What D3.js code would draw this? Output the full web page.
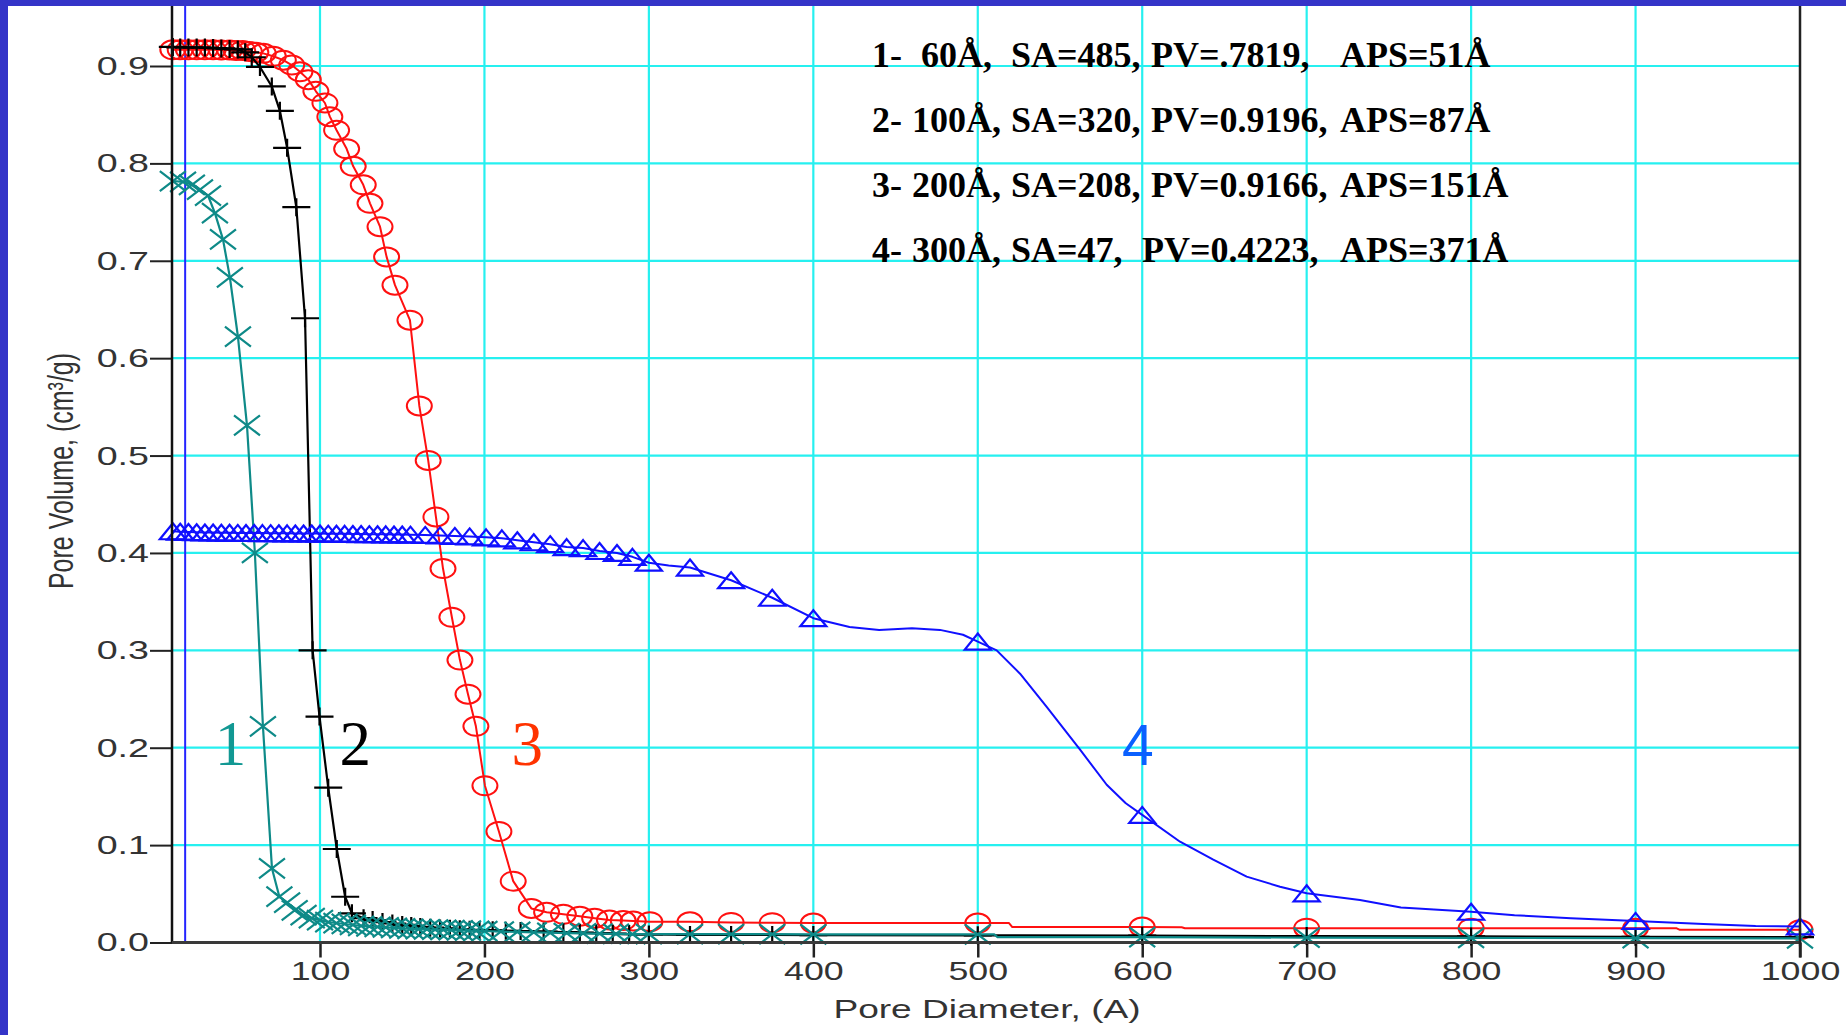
<!DOCTYPE html>
<html>
<head>
<meta charset="utf-8">
<script src="https://cdn.jsdelivr.net/npm/d3@7"></script>
<style>
  html, body { margin: 0; padding: 0; background: #fff; }
  svg { display: block; }
</style>
</head>
<body>
<svg id="chart" width="1846" height="1035"></svg>
<script>
// Cumulative pore volume (cm³/g) against pore diameter (Å) for four silica grades.
// Each series: measured points (drawn with markers) and extra curve points (line only).

const s1Points = [
  [10.5,0.7819],[16.7,0.781],[22.1,0.778],[27,0.773],[31.9,0.767],[36.1,0.749],[41,0.722],
  [45.2,0.683],[50.1,0.622],[55.6,0.531],[60.4,0.400],[65.3,0.222],[70.8,0.076],[75.3,0.047],
  [80,0.041],[84.6,0.033],[90,0.028],[95,0.025],[100,0.023],[105,0.021],[110,0.020],[115,0.019],
  [120,0.018],[125,0.017],[130,0.0165],[135,0.016],[140,0.0155],[145,0.015],[150,0.0145],
  [155,0.014],[160,0.0138],[165,0.0135],[170,0.0132],[175,0.013],[180,0.0128],[185,0.0125],
  [190,0.0122],[195,0.012],[200,0.0118],[210,0.0112],[220,0.0108],[230,0.0104],[240,0.010],
  [250,0.0097],[260,0.0094],[270,0.0091],[280,0.0089],[290,0.0087],[300,0.0086],[325,0.0085],
  [350,0.0085],[375,0.0085],[400,0.0084],[500,0.0083],[600,0.0055],[700,0.005],[800,0.0047],
  [900,0.0045],[1000,0.0043]
];
const s1Extra = [[510,0.0083],[512,0.0056]];

const s2Points = [
  [10.5,0.9196],[15,0.919],[20,0.919],[25,0.919],[30,0.919],[35,0.9185],[40,0.918],[45,0.9175],
  [50,0.917],[54.5,0.914],[58.5,0.909],[63.5,0.899],[70.7,0.879],[75.6,0.854],[80,0.816],
  [85.6,0.755],[90.9,0.641],[95.5,0.300],[99.7,0.232],[105,0.159],[110.2,0.096],[115.3,0.047],
  [119.4,0.030],[126.5,0.025],[132,0.023],[138,0.021],[144,0.0195],[150,0.018],[155.5,0.017],
  [161,0.016],[167,0.0152],[173,0.0145],[179,0.014],[185,0.0135],[191,0.013],[197,0.0128],
  [205,0.0125],[213,0.012],[222,0.0118],[236,0.0112],[248,0.0106],[258,0.0101],[268,0.0096],
  [278,0.0091],[288,0.0087],[300,0.0082],[325,0.0078],[350,0.0078],[375,0.0077],[400,0.0076],
  [500,0.0074],[600,0.007],[700,0.0066],[800,0.0062],[900,0.0058],[1000,0.0055]
];
const s2Extra = [];

const s3Points = [
  [10.5,0.9166],[15,0.9166],[20,0.9166],[25,0.9166],[30,0.9166],[35,0.9166],[40,0.9165],
  [45,0.9165],[49,0.916],[53,0.916],[57,0.915],[61,0.914],[65.5,0.913],[71.6,0.910],[77.7,0.906],
  [82.8,0.901],[87.8,0.894],[92.9,0.886],[97.5,0.874],[103,0.862],[106,0.848],[110.1,0.834],
  [116.2,0.815],[120.2,0.797],[126.3,0.778],[130.4,0.759],[136.5,0.735],[140.5,0.704],
  [145.6,0.675],[154.7,0.639],[160.4,0.551],[165.8,0.495],[170.5,0.437],[174.8,0.384],
  [180.2,0.334],[185.1,0.290],[190,0.255],[194.8,0.222],[200.3,0.161],[208.8,0.114],
  [217.5,0.063],[228.5,0.035],[237.8,0.031],[248,0.029],[258,0.027],[267,0.025],[276,0.023],
  [284.4,0.0225],[290.5,0.022],[300.6,0.0214],[325,0.0212],[350,0.0205],[375,0.0203],
  [400,0.0199],[500,0.0199],[600,0.0158],[700,0.0147],[800,0.0147],[900,0.0146],[1000,0.013]
];
const s3Extra = [[519,0.0199],[521,0.0158],[624,0.0157],[626,0.0147],[925,0.0146],[927,0.013]];

const s4Points = [
  [10.5,0.4223],[15,0.4218],[20,0.4215],[25,0.4213],[30,0.421],[35,0.421],[40,0.4208],
  [45,0.4207],[50,0.4206],[55,0.4205],[60,0.4205],[65,0.4204],[70,0.4203],[75,0.4202],
  [80,0.4201],[85,0.42],[90,0.42],[95,0.42],[100,0.4199],[105,0.4198],[110,0.4197],
  [115,0.4196],[120,0.4195],[125,0.4194],[130,0.4193],[135,0.4192],[140,0.4191],[145,0.419],
  [150,0.419],[155,0.4188],[164,0.4185],[173,0.418],[182,0.4175],[191,0.417],[201,0.416],
  [210.6,0.415],[220,0.413],[230,0.411],[240,0.409],[250,0.406],[260,0.405],[270,0.402],
  [280.6,0.400],[290,0.396],[300,0.390],[325,0.385],[350,0.372],[375,0.354],[400,0.333],
  [500,0.309],[600,0.131],[700,0.0505],[800,0.0316],[900,0.0222],[1000,0.0165]
];
const s4Extra = [
  [312,0.387],[422,0.324],[440,0.321],[460,0.3226],[477,0.321],[491,0.316],[511.5,0.300],
  [525.7,0.276],[541.9,0.242],[562.2,0.198],[578.4,0.162],[590,0.143],[623,0.1035],[643.2,0.085],
  [663.5,0.0676],[683.8,0.0573],[732.4,0.0436],[757.3,0.036],[826.4,0.028],[860.7,0.025],
  [941.3,0.019],[973,0.017]
];

const xTicks = [100,200,300,400,500,600,700,800,900,1000];
const yTicks = [0,0.1,0.2,0.3,0.4,0.5,0.6,0.7,0.8,0.9];
const referenceDiameter = 18;

const curveLabels = ["1","2","3","4"];
const curveLabelX = [45.5,121.5,226,597.4];

const legendRows = [
  ["1-", "60Å,",  "SA=485,", "PV=.7819,",  "APS=51Å"],
  ["2-", "100Å,", "SA=320,", "PV=0.9196,", "APS=87Å"],
  ["3-", "200Å,", "SA=208,", "PV=0.9166,", "APS=151Å"],
  ["4-", "300Å,", "SA=47,",  "PV=0.4223,", "APS=371Å"]
];

const xTitle = "Pore Diameter, (A)";
const yTitle = "Pore Volume, (cm³/g)";

// ---------- layout ----------
const svg = d3.select("#chart");
const W = 1846, H = 1035;
const left = 172, right = 1800, bottom = 942.5, top0 = 66;
const x = d3.scaleLinear().domain([10, 1000]).range([left, right]);
const y = d3.scaleLinear().domain([0, 0.9]).range([bottom, top0]);

svg.append("rect").attr("width", W).attr("height", H).attr("fill", "#fff");

const gridColor = "#26f0f0";
const g = svg.append("g");

// grid
g.append("g").selectAll("line").data(xTicks.filter(d => d < 1000)).join("line")
  .attr("x1", d => x(d)).attr("x2", d => x(d)).attr("y1", 0).attr("y2", bottom)
  .attr("stroke", gridColor).attr("stroke-width", 2.2);
g.append("g").selectAll("line").data(yTicks.filter(d => d > 0)).join("line")
  .attr("x1", left).attr("x2", right).attr("y1", d => y(d)).attr("y2", d => y(d))
  .attr("stroke", gridColor).attr("stroke-width", 2.2);

// reference line
g.append("line")
  .attr("x1", x(referenceDiameter)).attr("x2", x(referenceDiameter))
  .attr("y1", 0).attr("y2", bottom)
  .attr("stroke", "#2424ff").attr("stroke-width", 2);

// axes
const stretch = (sel, k) => sel.each(function () {
  const w = this.getComputedTextLength();
  d3.select(this).attr("textLength", w * k).attr("lengthAdjust", "spacingAndGlyphs");
});

const yAxis = g.append("g").attr("transform", `translate(${left},0)`)
  .call(d3.axisLeft(y).tickValues(yTicks).tickFormat(d3.format(".1f"))
    .tickSize(22).tickSizeOuter(0).tickPadding(1));
yAxis.select(".domain").remove();
yAxis.selectAll(".tick line").attr("stroke", "#222").attr("stroke-width", 2);
yAxis.selectAll(".tick text")
  .attr("font-family", "'Liberation Sans', Arial, sans-serif").attr("font-size", 26.5)
  .attr("fill", "#333").call(stretch, 1.42);

const xAxis = g.append("g").attr("transform", `translate(0,${bottom})`)
  .call(d3.axisBottom(x).tickValues(xTicks).tickFormat(d3.format("d"))
    .tickSize(15).tickSizeOuter(0).tickPadding(4));
xAxis.select(".domain").remove();
xAxis.selectAll(".tick line").attr("stroke", "#222").attr("stroke-width", 2.5);
xAxis.selectAll(".tick text")
  .attr("font-family", "'Liberation Sans', Arial, sans-serif").attr("font-size", 26.5)
  .attr("fill", "#333").call(stretch, 1.35);

// series
const lineGen = d3.line().x(d => x(d[0])).y(d => y(d[1]));
const merged = (pts, extra) => pts.concat(extra).sort((a, b) => a[0] - b[0]);

const shapes = {
  ellipse: null,
  plus: "M-14,0H14M0,-9V9",
  cross: "M-13,-10L13,10M-13,10L13,-10",
  triangle: "M0,-8L13,8L-13,8Z"
};

const series = [
  { pts: s3Points, extra: s3Extra, color: "#ff1010", shape: "ellipse", lw: 2 },
  { pts: s2Points, extra: s2Extra, color: "#000000", shape: "plus", lw: 2.2 },
  { pts: s1Points, extra: s1Extra, color: "#0e8a88", shape: "cross", lw: 2.2 },
  { pts: s4Points, extra: s4Extra, color: "#1010ff", shape: "triangle", lw: 2 }
];

series.forEach(s => {
  const sg = g.append("g");
  sg.append("path").datum(merged(s.pts, s.extra))
    .attr("d", lineGen).attr("fill", "none")
    .attr("stroke", s.color).attr("stroke-width", s.lw).attr("stroke-linejoin", "round");
  if (s.shape === "ellipse") {
    sg.selectAll("ellipse").data(s.pts).join("ellipse")
      .attr("cx", d => x(d[0])).attr("cy", d => y(d[1]))
      .attr("rx", 12.5).attr("ry", 9.5)
      .attr("fill", "none").attr("stroke", s.color).attr("stroke-width", 2);
  } else {
    sg.selectAll("path.m").data(s.pts).join("path").attr("class", "m")
      .attr("transform", d => `translate(${x(d[0])},${y(d[1])})`)
      .attr("d", shapes[s.shape]).attr("fill", "none")
      .attr("stroke", s.color).attr("stroke-width", 2.2);
  }
});

// axis lines and right frame
g.append("line").attr("x1", left).attr("x2", left).attr("y1", 0).attr("y2", bottom)
  .attr("stroke", "#111").attr("stroke-width", 2.5);
g.append("line").attr("x1", left).attr("x2", right).attr("y1", bottom).attr("y2", bottom)
  .attr("stroke", "#3a3a3a").attr("stroke-width", 3);
g.append("line").attr("x1", right).attr("x2", right).attr("y1", 0).attr("y2", bottom + 15)
  .attr("stroke", "#222").attr("stroke-width", 2.5);

// axis titles
g.append("text").text(xTitle)
  .attr("x", 987).attr("y", 1018).attr("text-anchor", "middle")
  .attr("font-family", "'Liberation Sans', Arial, sans-serif").attr("font-size", 26.5)
  .attr("fill", "#333").call(stretch, 1.4);
g.append("text").text(yTitle)
  .attr("transform", "translate(61,471) scale(1.4,1) rotate(-90)")
  .attr("text-anchor", "middle").attr("dy", "0.35em")
  .attr("font-family", "'Liberation Sans', Arial, sans-serif").attr("font-size", 25)
  .attr("fill", "#333");

// curve numbers
const labelColors = ["#129893", "#000000", "#ff3300", "#0a60ff"];
const labelFonts = ["'Liberation Serif', 'Times New Roman', serif", "'Liberation Serif', 'Times New Roman', serif",
  "'Liberation Serif', 'Times New Roman', serif", "'Liberation Sans', Arial, sans-serif"];
const labelSizes = [63, 63, 63, 57];
curveLabels.forEach((t, i) => {
  g.append("text").text(t)
    .attr("x", x(curveLabelX[i])).attr("y", 765)
    .attr("text-anchor", "middle")
    .attr("font-family", labelFonts[i]).attr("font-size", labelSizes[i])
    .attr("fill", labelColors[i]);
});

// legend block
const colX = [[872, 921, 1011, 1151, 1340], [872, 912, 1011, 1151, 1340],
              [872, 912, 1011, 1151, 1340], [872, 912, 1011, 1142, 1340]];
const rowY = [66.7, 131.7, 197.3, 261.7];
legendRows.forEach((row, r) => {
  const t = g.append("text").attr("y", rowY[r])
    .attr("font-family", "'Liberation Serif', 'Times New Roman', serif")
    .attr("font-weight", "bold").attr("font-size", 36).attr("fill", "#000");
  row.forEach((seg, c) => t.append("tspan").attr("x", colX[r][c]).text(seg));
});

// frame bands
svg.append("rect").attr("x", 0).attr("y", 0).attr("width", W).attr("height", 6).attr("fill", "#3434c8");
svg.append("rect").attr("x", 0).attr("y", 0).attr("width", 8).attr("height", H).attr("fill", "#3434c8");
</script>
</body>
</html>
